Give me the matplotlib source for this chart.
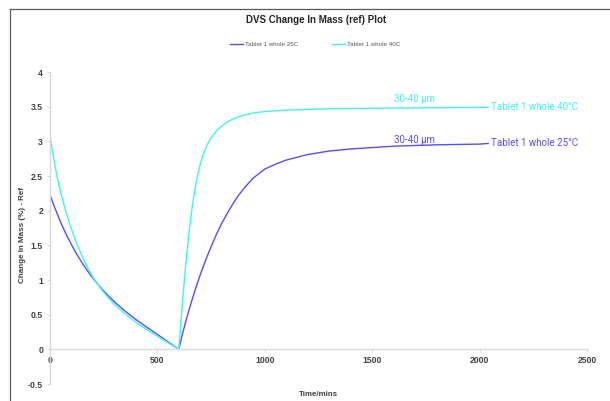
import matplotlib
matplotlib.use("Agg")
import matplotlib.pyplot as plt
from matplotlib.lines import Line2D

# time points (mins) and change in mass (%)
t_25 = [0, 25, 50, 75, 100, 125, 150, 175, 200, 250, 300, 350, 400, 450, 500, 550, 600,
        615, 630, 650, 675, 700, 725, 750, 775, 800, 825, 850, 875, 900, 925, 950,
        975, 1000, 1050, 1100, 1150, 1200, 1300, 1400, 1500, 1600, 1800, 2000, 2040]
m_25 = [2.23, 2.02, 1.83, 1.66, 1.51, 1.37, 1.245, 1.13, 1.025, 0.84, 0.685, 0.55, 0.43, 0.32,
        0.215, 0.107, 0.0,
        0.20, 0.38, 0.60, 0.85, 1.08, 1.29, 1.48, 1.66, 1.82, 1.96, 2.09, 2.21, 2.31, 2.40, 2.48,
        2.54, 2.60, 2.67, 2.73, 2.77, 2.81, 2.86, 2.89, 2.91, 2.93, 2.95, 2.96, 2.97]

t_40 = [0, 12, 25, 37, 50, 75, 100, 125, 150, 175, 200, 250, 300, 350, 400, 450, 500, 550, 600,
        610, 620, 630, 640, 650, 660, 670, 680, 690, 700, 712, 725, 737, 750, 775, 800,
        825, 850, 875, 900, 950, 1000, 1100, 1300, 1600, 2040]
m_40 = [3.08, 2.84, 2.62, 2.43, 2.26, 1.97, 1.73, 1.52, 1.34, 1.18, 1.04, 0.82, 0.65, 0.51,
        0.39, 0.285, 0.19, 0.095, 0.0,
        0.42, 0.80, 1.15, 1.47, 1.76, 2.01, 2.22, 2.40, 2.55, 2.68, 2.80, 2.90, 2.98, 3.05,
        3.15, 3.22, 3.28, 3.32, 3.35, 3.375, 3.41, 3.43, 3.45, 3.47, 3.48, 3.49]

series_names = ["Tablet 1 whole 25C", "Tablet 1 whole 40C"]
end_labels = ["Tablet 1 whole 25\u00b0C", "Tablet 1 whole 40\u00b0C"]
size_label = "30-40 \u00b5m"

x_ticks = [0, 500, 1000, 1500, 2000, 2500]
y_ticks = [-0.5, 0, 0.5, 1, 1.5, 2, 2.5, 3, 3.5, 4]

blue = "#5a4cff"
cyan = "#3ef4f4"

plt.rcParams["font.family"] = ["Liberation Sans", "DejaVu Sans"]

fig = plt.figure(figsize=(6.10, 4.01), dpi=100)
ax = fig.add_axes([50 / 610, 1 - 384 / 401, 537 / 610, 312 / 401])

ax.plot(t_25, m_25, color=blue, lw=1.0, label=series_names[0])
ax.plot(t_40, m_40, color=cyan, lw=1.0, label=series_names[1])

ax.set_xlim(0, 2500)
ax.set_ylim(-0.5, 4)
ax.set_xticks(x_ticks)
ax.set_yticks(y_ticks)
ax.set_xticklabels([str(v) for v in x_ticks])
ax.set_yticklabels(["%g" % v for v in y_ticks])

for s in ["top", "right"]:
    ax.spines[s].set_visible(False)
ax.spines["bottom"].set_position(("data", 0))
for s in ["left", "bottom"]:
    ax.spines[s].set_color("#d9d9d9")
    ax.spines[s].set_linewidth(1.0)

ax.tick_params(axis="y", length=2, width=0.8, color="#d9d9d9", pad=3,
               labelsize=6.2, labelcolor="#404040")
ax.tick_params(axis="x", length=2, width=0.8, color="#d9d9d9", pad=3,
               labelsize=6.2, labelcolor="#404040")
for lab in ax.get_xticklabels() + ax.get_yticklabels():
    lab.set_fontweight("bold")

fig.text(23 / 610, 1 - 235 / 401, "Change In Mass (%) - Ref", rotation=90,
         ha="center", va="center", fontsize=5.8, fontweight="bold", color="#404040")
fig.text(318 / 610, 1 - 394 / 401, "Time/mins", ha="center", va="center",
         fontsize=5.7, fontweight="bold", color="#404040")
fig.text(316 / 610, 1 - 20 / 401, "DVS Change In Mass (ref) Plot", ha="center",
         va="center", fontsize=7, fontweight="bold", color="#262626")

fig.legend(loc="center", bbox_to_anchor=(315 / 610, 1 - 44.5 / 401), ncol=2,
           frameon=False, fontsize=4.5, handlelength=2.1, handletextpad=0.25,
           columnspacing=5.4, labelcolor="#595959")

# end labels and size notes
lab_font = ["Roboto", "DejaVu Sans"]
ax.text(2053, m_40[-1], end_labels[1], color=cyan, fontsize=7, family=lab_font,
        ha="left", va="center")
ax.text(2053, m_25[-1], end_labels[0], color=blue, fontsize=7, family=lab_font,
        ha="left", va="center")
ax.text(1698, 3.61, size_label, color=cyan, fontsize=7, family=lab_font,
        ha="center", va="center")
ax.text(1698, 3.02, size_label, color=blue, fontsize=7, family=lab_font,
        ha="center", va="center")

# outer frame lines
fig.add_artist(Line2D([10 / 610, 10 / 610], [0, 1 - 9 / 401], color="#595959", lw=0.9))
fig.add_artist(Line2D([10 / 610, 1], [1 - 9 / 401, 1 - 9 / 401], color="#595959", lw=0.9))

fig.savefig("out.png", dpi=100)
